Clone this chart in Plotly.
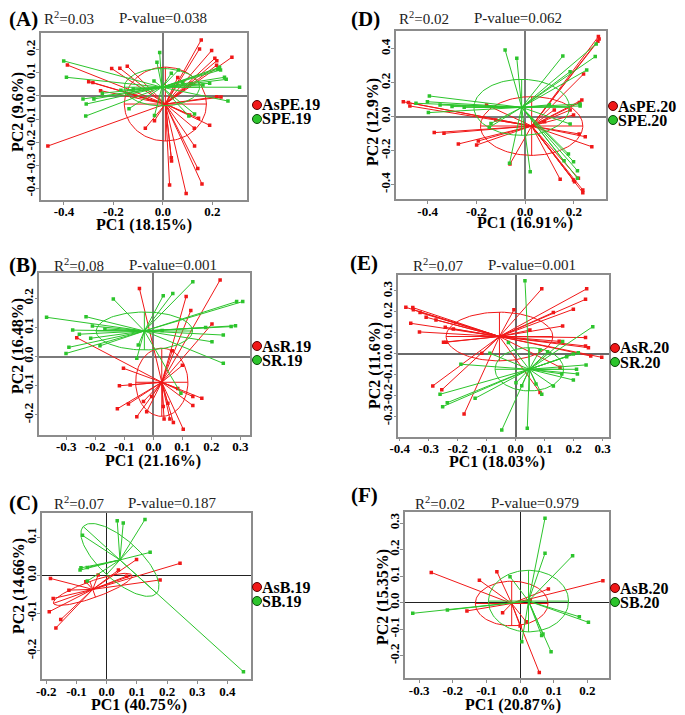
import numpy as np
import plotly.graph_objects as go

# the page body keeps its default 8px margin, so the figure is drawn 8px smaller
# and every reference pixel position is shifted by that offset
OFF = 8
W, H = 685 - OFF, 715 - OFF
RED = "#f01818"
GREEN = "#2cc42c"
SERIF = "Liberation Serif"

# ---------------- data ----------------
# (A) PE 2019
a_red_x = [-0.465, -0.386, -0.300, -0.283, -0.252, -0.207, -0.174, -0.144, -0.071, -0.034, 0.027, 0.034,
           0.035, 0.094, 0.141, 0.158, 0.128, 0.127, 0.144, 0.189, 0.155, 0.148, 0.197, 0.210, 0.218,
           0.217, 0.279, 0.218, 0.114, 0.108, -0.110, -0.140, 0.060, 0.235]
a_red_y = [-0.217, 0.134, 0.062, 0.058, 0.023, 0.119, 0.120, 0.129, -0.140, -0.107, -0.386, -0.268,
           -0.282, -0.423, -0.314, -0.382, -0.217, -0.140, -0.097, -0.127, 0.243, 0.204, 0.197, 0.163,
           0.153, 0.133, 0.168, -0.003, 0.055, -0.082, 0.000, 0.010, 0.080, -0.005]
a_green_x = [-0.401, -0.390, -0.323, -0.310, -0.312, -0.279, -0.245, -0.137, -0.034, -0.013, -0.024, 0.034,
             0.063, 0.222, 0.229, 0.233, 0.249, 0.256, 0.310, 0.263, 0.189, 0.162, 0.105, 0.128, -0.036,
             -0.120, -0.170, 0.080]
a_green_y = [0.152, 0.081, -0.013, -0.035, -0.087, -0.013, 0.012, -0.055, -0.085, 0.188, 0.146, 0.098,
             0.113, 0.116, 0.124, 0.113, 0.081, 0.072, 0.038, -0.022, 0.055, 0.048, -0.087, -0.078, 0.065,
             0.030, 0.025, 0.060]
a_red_center = [0.010, -0.035]
a_green_center = [-0.004, 0.038]
a_red_ellipse = [0.166, 0.0, 0.0, 0.160]      # semi-axis vectors ux, uy, vx, vy
a_green_ellipse = [0.152, 0.0, 0.0, 0.081]

# (D) PE 2020
d_red_x = [-0.500, -0.479, -0.473, -0.373, -0.333, -0.274, -0.199, -0.192, -0.062, -0.158, 0.301, 0.304,
           0.299, 0.240, 0.233, 0.223, 0.222, 0.247, 0.274, 0.144, 0.199, 0.203, 0.219, 0.237, 0.237,
           0.185, 0.199, -0.120, 0.080, 0.120]
d_red_y = [0.088, 0.083, 0.063, -0.094, -0.098, -0.161, -0.167, -0.143, -0.279, 0.069, 0.472, 0.458,
           0.444, 0.251, 0.098, 0.083, -0.102, -0.118, -0.177, -0.369, -0.373, -0.383, -0.363, -0.432,
           -0.448, 0.039, 0.010, -0.020, -0.030, 0.040]
d_green_x = [-0.082, -0.034, 0.155, 0.292, 0.288, 0.253, 0.185, -0.393, -0.401, -0.397, -0.448, -0.349,
             -0.300, -0.147, -0.140, -0.064, 0.021, 0.185, 0.226, 0.226, 0.178, 0.199, 0.215, 0.215,
             0.160, 0.100, -0.250]
d_green_y = [0.393, 0.344, 0.358, 0.428, 0.354, 0.275, 0.265, 0.122, 0.088, 0.024, 0.079, 0.069,
             0.060, -0.063, -0.040, -0.275, -0.324, -0.043, 0.063, 0.075, -0.220, -0.265, -0.318, -0.363,
             -0.260, 0.070, 0.055]
d_red_center = [0.027, -0.055]
d_green_center = [-0.014, 0.055]
d_red_ellipse = [0.210, 0.0, 0.0, 0.173]
d_green_ellipse = [0.196, 0.0, 0.0, 0.165]

# (B) R 2019
b_red_x = [-0.048, 0.113, 0.129, 0.230, 0.202, -0.264, -0.103, -0.117, -0.080, -0.124, -0.086, -0.057,
           -0.034, -0.023, -0.006, 0.037, 0.057, 0.069, 0.103, 0.136, 0.136, 0.167, 0.084, 0.034, 0.050,
           0.065, 0.100]
b_red_y = [0.234, 0.206, 0.158, 0.263, 0.112, 0.065, -0.040, -0.100, -0.097, -0.179, -0.163, -0.206,
           -0.154, -0.189, -0.137, -0.214, -0.214, -0.226, -0.249, -0.137, -0.168, -0.143, -0.109,
           -0.171, -0.160, 0.020, -0.030]
b_green_x = [-0.368, -0.301, -0.291, -0.278, -0.255, -0.232, -0.216, -0.210, -0.184, -0.138, -0.167,
             -0.057, -0.052, 0.034, 0.067, 0.136, 0.287, 0.308, 0.268, 0.283, 0.241, 0.202, 0.241, 0.095,
             0.030, 0.180]
b_green_y = [0.135, 0.011, 0.032, 0.091, 0.077, 0.137, 0.063, 0.105, 0.037, 0.198, 0.095, -0.006, 0.040,
             0.209, 0.217, 0.257, 0.189, 0.189, 0.103, 0.106, 0.074, 0.051, -0.023, -0.126, 0.090, 0.100]
b_red_center = [0.029, -0.088]
b_green_center = [-0.031, 0.088]
b_red_ellipse = [0.090, 0.0, 0.0, 0.117]
b_green_ellipse = [0.166, 0.0, 0.0, 0.065]

# (E) R 2020
e_red_x = [-0.379, -0.355, -0.353, -0.330, -0.309, -0.275, -0.362, -0.332, -0.243, -0.215, -0.249, -0.240,
           -0.286, -0.255, -0.178, -0.117, -0.006, 0.090, 0.245, 0.241, 0.199, 0.130, 0.162, 0.049, 0.241,
           0.241, 0.251, 0.259, 0.297, 0.153, 0.084, 0.150]
e_red_y = [0.222, 0.221, 0.210, 0.197, 0.175, 0.162, 0.146, 0.105, 0.127, 0.119, 0.056, 0.056, -0.152,
           -0.171, -0.286, 0.003, 0.210, 0.310, 0.310, 0.260, 0.213, 0.198, 0.133, 0.114, 0.078, 0.038,
           0.030, -0.010, -0.016, -0.063, -0.183, 0.060]
e_green_x = [0.032, 0.266, 0.162, 0.176, 0.199, 0.216, 0.243, 0.210, 0.213, 0.199, 0.159, 0.130, 0.090,
             0.070, 0.021, 0.001, 0.040, -0.048, -0.089, -0.189, -0.140, -0.261, -0.252, -0.236, -0.025,
             0.084, 0.110]
e_green_y = [0.349, 0.130, 0.059, -0.013, 0.000, 0.006, -0.052, -0.073, -0.095, -0.124, -0.095, -0.152,
             -0.192, -0.143, -0.151, -0.137, -0.354, -0.362, 0.003, -0.049, -0.211, -0.192, -0.251, -0.232,
             0.054, 0.019, 0.010]
e_red_center = [-0.056, 0.083]
e_green_center = [0.047, -0.073]
e_red_ellipse = [0.184, 0.0, 0.0, 0.116]
e_green_ellipse = [0.118, 0.0, 0.0, 0.103]

# (C) B 2019
c_red_x = [-0.186, -0.177, -0.190, -0.168, -0.152, -0.125, -0.069, 0.039, 0.099, 0.243, 0.177, 0.066, -0.028]
c_red_y = [-0.008, -0.061, -0.096, -0.139, -0.117, -0.039, -0.017, 0.014, 0.042, 0.032, -0.012, -0.002, 0.001]
c_green_x = [0.035, 0.055, 0.127, -0.080, 0.144, 0.453, -0.085, -0.064, -0.064, -0.088]
c_green_y = [0.145, 0.139, 0.148, 0.106, 0.061, -0.255, 0.020, 0.021, -0.015, 0.014]
c_red_center = [-0.046, -0.037]
c_green_center = [0.044, 0.041]
c_red_ellipse = [0.130, 0.037, 0.0093, -0.0208]
c_green_ellipse = [0.1215, -0.0883, 0.0442, 0.0388]

# (F) B 2020
f_red_x = [-0.264, -0.121, -0.069, -0.158, -0.052, 0.000, 0.018, 0.057, 0.084, 0.246, 0.030]
f_red_y = [0.114, 0.085, 0.117, -0.031, -0.038, -0.088, -0.072, -0.263, 0.052, 0.083, 0.010]
f_green_x = [0.074, 0.074, 0.156, -0.319, -0.216, 0.005, 0.064, 0.092, 0.176, 0.203, -0.030, 0.068]
f_green_y = [0.318, 0.186, 0.177, -0.040, -0.028, -0.147, -0.124, -0.185, -0.053, -0.074, 0.098, -0.118]
f_red_center = [-0.025, -0.003]
f_green_center = [0.025, 0.006]
f_red_ellipse = [0.108, 0.0, 0.0, 0.084]
f_green_ellipse = [0.119, 0.0, 0.0, 0.116]

# tick labels
a_xticks = ["-0.4", "-0.2", "0.0", "0.2"]
a_yticks = ["-0.4", "-0.3", "-0.2", "-0.1", "0.0", "0.1", "0.2"]
d_xticks = ["-0.4", "-0.2", "0.0", "0.2"]
d_yticks = ["-0.4", "-0.2", "0.0", "0.2", "0.4"]
b_xticks = ["-0.3", "-0.2", "-0.1", "0.0", "0.1", "0.2", "0.3"]
b_yticks = ["-0.2", "-0.1", "0.0", "0.1", "0.2"]
e_xticks = ["-0.4", "-0.3", "-0.2", "-0.1", "0.0", "0.1", "0.2", "0.3"]
e_yticks = ["-0.3", "-0.2", "-0.1", "0.0", "0.1", "0.2", "0.3"]
c_xticks = ["-0.2", "-0.1", "0.0", "0.1", "0.2", "0.3", "0.4"]
c_yticks = ["-0.2", "-0.1", "0.0", "0.1"]
f_xticks = ["-0.3", "-0.2", "-0.1", "0.0", "0.1", "0.2"]
f_yticks = ["-0.2", "-0.1", "0.0", "0.1", "0.2", "0.3"]

# ---------------- layout (pixel positions in the reference page) ----------------
panels = [
    dict(tag="(A)", r2="0.03", p="0.038", pc1="PC1 (18.15%)", pc2="PC2 (9.6%)", groups=("AsPE.19", "SPE.19"),
         red=(a_red_x, a_red_y, a_red_center, a_red_ellipse), green=(a_green_x, a_green_y, a_green_center, a_green_ellipse),
         xt=a_xticks, yt=a_yticks, box=(40.7, 247, 33, 200), xr=[-0.494, 0.34], yr=[-0.451, 0.273],
         tagpos=(8, 19), r2x=43, px=118, tly=18, xtit=(144, 225), ytit=(18, 112), leg=(257, 105), zl=("#7a7a7a", 2)),
    dict(tag="(D)", r2="0.02", p="0.062", pc1="PC1 (16.91%)", pc2="PC2 (12.9%)", groups=("AsPE.20", "SPE.20"),
         red=(d_red_x, d_red_y, d_red_center, d_red_ellipse), green=(d_green_x, d_green_y, d_green_center, d_green_ellipse),
         xt=d_xticks, yt=d_yticks, box=(396, 605.7, 31, 199.3), xr=[-0.53, 0.331], yr=[-0.487, 0.505],
         tagpos=(350, 19), r2x=398, px=473, tly=18, xtit=(525, 223), ytit=(373, 122), leg=(613, 106), zl=("#7a7a7a", 2)),
    dict(tag="(B)", r2="0.08", p="0.001", pc1="PC1 (21.16%)", pc2="PC2 (16.48%)", groups=("AsR.19", "SR.19"),
         red=(b_red_x, b_red_y, b_red_center, b_red_ellipse), green=(b_green_x, b_green_y, b_green_center, b_green_ellipse),
         xt=b_xticks, yt=b_yticks, box=(39.3, 250, 273.3, 435), xr=[-0.393, 0.333], yr=[-0.269, 0.286],
         tagpos=(8, 265), r2x=53, px=128, tly=265, xtit=(153, 461), ytit=(18, 346), leg=(257, 346), zl=("#7a7a7a", 2)),
    dict(tag="(E)", r2="0.07", p="0.001", pc1="PC1 (18.03%)", pc2="PC2 (11.6%)", groups=("AsR.20", "SR.20"),
         red=(e_red_x, e_red_y, e_red_center, e_red_ellipse), green=(e_green_x, e_green_y, e_green_center, e_green_ellipse),
         xt=e_xticks, yt=e_yticks, box=(398.3, 609.3, 275, 436.7), xr=[-0.405, 0.323], yr=[-0.394, 0.376],
         tagpos=(349, 263), r2x=412, px=487, tly=265, xtit=(497, 462), ytit=(375, 365), leg=(615, 348), zl=("#6a6a6a", 2)),
    dict(tag="(C)", r2="0.07", p="0.187", pc1="PC1 (40.75%)", pc2="PC2 (14.66%)", groups=("AsB.19", "SB.19"),
         red=(c_red_x, c_red_y, c_red_center, c_red_ellipse), green=(c_green_x, c_green_y, c_green_center, c_green_ellipse),
         xt=c_xticks, yt=c_yticks, box=(41.7, 250.7, 512.7, 679.3), xr=[-0.215, 0.477], yr=[-0.275, 0.166],
         tagpos=(8, 503), r2x=53, px=127, tly=503, xtit=(139, 705), ytit=(19, 586), leg=(257, 587), zl=("#222222", 1)),
    dict(tag="(F)", r2="0.02", p="0.979", pc1="PC1 (20.87%)", pc2="PC2 (15.35%)", groups=("AsB.20", "SB.20"),
         red=(f_red_x, f_red_y, f_red_center, f_red_ellipse), green=(f_green_x, f_green_y, f_green_center, f_green_ellipse),
         xt=f_xticks, yt=f_yticks, box=(405, 609.3, 511.7, 678.3), xr=[-0.342, 0.265], yr=[-0.285, 0.343],
         tagpos=(350, 495), r2x=414, px=490, tly=503, xtit=(513, 705), ytit=(383, 597), leg=(615, 588), zl=("#222222", 1)),
]


def px2x(v):
    return (v - OFF) / W


def px2y(v):
    return 1 - (v - OFF) / H


fig = go.Figure()
annotations = []
shapes = []
t = np.linspace(0, 2 * np.pi, 120)

for i, pn in enumerate(panels, start=1):
    xa = "x" if i == 1 else f"x{i}"
    ya = "y" if i == 1 else f"y{i}"
    for col, (gx, gy, cen, ell) in ((RED, pn["red"]), (GREEN, pn["green"])):
        cx, cy = cen
        sx, sy = [], []
        for x, y in zip(gx, gy):
            sx += [cx, x, None]
            sy += [cy, y, None]
        fig.add_trace(go.Scatter(x=sx, y=sy, mode="lines", line=dict(color=col, width=1),
                                 xaxis=xa, yaxis=ya, showlegend=False, hoverinfo="skip"))
        fig.add_trace(go.Scatter(x=gx, y=gy, mode="markers", marker=dict(color=col, size=3.5, symbol="square"),
                                 xaxis=xa, yaxis=ya, showlegend=False))
        ux, uy, vx, vy = ell
        ex = cx + ux * np.cos(t) + vx * np.sin(t)
        ey = cy + uy * np.cos(t) + vy * np.sin(t)
        fig.add_trace(go.Scatter(x=ex, y=ey, mode="lines", line=dict(color=col, width=1),
                                 xaxis=xa, yaxis=ya, showlegend=False, hoverinfo="skip"))
        # ellipse axes
        fig.add_trace(go.Scatter(x=[cx - ux, cx + ux, None, cx - vx, cx + vx],
                                 y=[cy - uy, cy + uy, None, cy - vy, cy + vy],
                                 mode="lines", line=dict(color=col, width=1),
                                 xaxis=xa, yaxis=ya, showlegend=False, hoverinfo="skip"))

    x0, x1, y0, y1 = pn["box"]
    zc, zw = pn["zl"]
    common = dict(showgrid=False, zeroline=True, zerolinecolor=zc, zerolinewidth=zw, automargin=False,
                  showline=True, linecolor="#8c8c8c", linewidth=1.5, mirror=True,
                  ticks="outside", ticklen=3, tickcolor="#8c8c8c", ticklabelstandoff=-4,
                  tickfont=dict(family=SERIF, size=13, color="black", weight="bold"))
    fig.update_layout(**{
        ("xaxis" if i == 1 else f"xaxis{i}"): dict(
            domain=[px2x(x0), px2x(x1)], range=pn["xr"], anchor=ya,
            tickvals=[float(s) for s in pn["xt"]], ticktext=pn["xt"], **common),
        ("yaxis" if i == 1 else f"yaxis{i}"): dict(
            domain=[px2y(y1), px2y(y0)], range=pn["yr"], anchor=xa, tickangle=-90,
            tickvals=[float(s) for s in pn["yt"]], ticktext=pn["yt"], **common),
    })

    # panel texts
    annotations.append(dict(x=px2x(pn["tagpos"][0]), y=px2y(pn["tagpos"][1]), text=pn["tag"], xanchor="left",
                            font=dict(family=SERIF, size=21, color="black", weight="bold")))
    annotations.append(dict(x=px2x(pn["r2x"]), y=px2y(pn["tly"]), xanchor="left",
                            text=f"R<sup>2</sup>={pn['r2']}", font=dict(family=SERIF, size=15, color="#222")))
    annotations.append(dict(x=px2x(pn["px"]), y=px2y(pn["tly"]), xanchor="left",
                            text=f"P-value={pn['p']}", font=dict(family=SERIF, size=15, color="#222")))
    annotations.append(dict(x=px2x(pn["xtit"][0]), y=px2y(pn["xtit"][1]), text=pn["pc1"], xanchor="center",
                            font=dict(family=SERIF, size=16, color="black", weight="bold")))
    annotations.append(dict(x=px2x(pn["ytit"][0]), y=px2y(pn["ytit"][1]), text=pn["pc2"], textangle=-90,
                            xanchor="center", font=dict(family=SERIF, size=16, color="black", weight="bold")))

    # legend
    lx, ly = pn["leg"]
    for k, (name, col, edge) in enumerate(((pn["groups"][0], RED, "#5a0000"), (pn["groups"][1], GREEN, "#0a4a0a"))):
        yy = ly + k * 14
        shapes.append(dict(type="circle", xref="paper", yref="paper", xsizemode="pixel", ysizemode="pixel",
                           xanchor=px2x(lx), yanchor=px2y(yy), x0=-4.5, x1=4.5, y0=-4.5, y1=4.5,
                           fillcolor=col, line=dict(color=edge, width=1)))
        annotations.append(dict(x=px2x(lx + 4), y=px2y(yy), xanchor="left", text=name,
                                font=dict(family=SERIF, size=16, color="black", weight="bold")))

for a in annotations:
    a.update(xref="paper", yref="paper", showarrow=False, yanchor="middle", borderpad=0)

fig.update_layout(width=W, height=H, margin=dict(l=0, r=0, t=0, b=0, autoexpand=False),
                  paper_bgcolor="white", plot_bgcolor="white",
                  annotations=annotations, shapes=shapes, showlegend=False)

fig.write_html("out.html")
